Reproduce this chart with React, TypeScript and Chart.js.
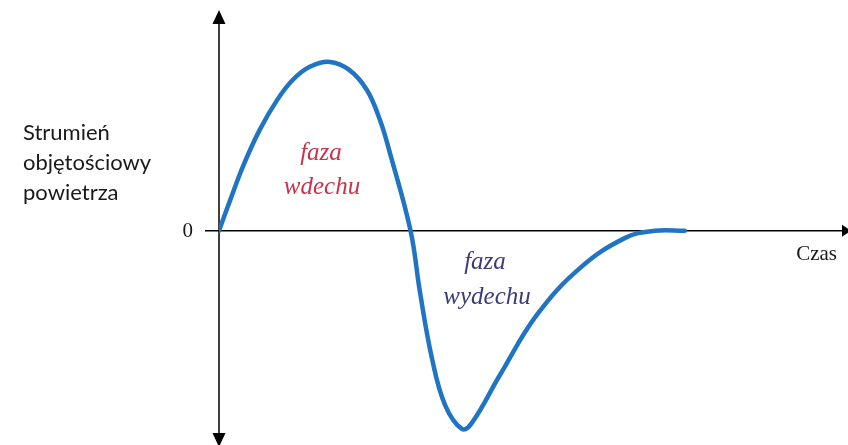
import React, { useEffect, useRef } from "react";
import { Chart, registerables } from "chart.js";

Chart.register(...registerables);

// Time (arbitrary units) and air flow values
const timeValues = [0, 0.18, 0.38, 0.65, 0.93, 1.18, 1.45, 1.77, 2.08, 2.36, 2.57, 2.73, 3.06, 3.21, 3.4, 3.61, 3.88, 4.04, 4.49, 5.08, 5.77, 6.49, 6.96, 7.44];
const flowValues = [0, 1.4, 2.9, 4.57, 5.93, 6.84, 7.43, 7.65, 7.29, 6.39, 5.03, 3.53, 0, -2.76, -5.75, -7.88, -8.97, -8.7, -6.52, -3.8, -1.68, -0.32, 0, 0];

const yAxisLabelLines = ["Strumień", "objętościowy", "powietrza"];
const xAxisLabel = "Czas";
const zeroLabel = "0";
const inhaleLabel = ["faza", "wdechu"];
const exhaleLabel = ["faza", "wydechu"];

const X_MIN = 0;
const X_MAX = 10;
const Y_MIN = -9.7;
const Y_MAX = 10;

const axesPlugin = {
  id: "arrowAxes",
  beforeDatasetsDraw(chart: any) {
    const { ctx, chartArea, scales } = chart;
    const x0 = scales.x.getPixelForValue(0);
    const y0 = scales.y.getPixelForValue(0);
    ctx.save();
    ctx.strokeStyle = "#000";
    ctx.fillStyle = "#000";
    ctx.lineWidth = 1.5;
    // vertical axis
    ctx.beginPath();
    ctx.moveTo(x0, chartArea.top + 10);
    ctx.lineTo(x0, chartArea.bottom - 8);
    ctx.stroke();
    // top arrow
    ctx.beginPath();
    ctx.moveTo(x0, chartArea.top);
    ctx.lineTo(x0 - 6.5, chartArea.top + 14);
    ctx.lineTo(x0 + 6.5, chartArea.top + 14);
    ctx.closePath();
    ctx.fill();
    // bottom arrow
    ctx.beginPath();
    ctx.moveTo(x0, chartArea.bottom + 2);
    ctx.lineTo(x0 - 6.5, chartArea.bottom - 12);
    ctx.lineTo(x0 + 6.5, chartArea.bottom - 12);
    ctx.closePath();
    ctx.fill();
    // horizontal axis
    ctx.beginPath();
    ctx.moveTo(x0 - 14, y0);
    ctx.lineTo(chartArea.right, y0);
    ctx.stroke();
    // right arrow
    ctx.beginPath();
    ctx.moveTo(chartArea.right + 6, y0);
    ctx.lineTo(chartArea.right - 3, y0 - 6);
    ctx.lineTo(chartArea.right - 3, y0 + 6);
    ctx.closePath();
    ctx.fill();
    ctx.restore();
  },
  afterDraw(chart: any) {
    const { ctx, scales, chartArea } = chart;
    const x0 = scales.x.getPixelForValue(0);
    const y0 = scales.y.getPixelForValue(0);
    ctx.save();
    ctx.textBaseline = "middle";
    // y axis label
    ctx.fillStyle = "#1a1a1a";
    ctx.font = "22px Lato";
    ctx.textAlign = "left";
    yAxisLabelLines.forEach((line, i) => {
      ctx.fillText(line, 23, 133 + i * 30);
    });
    // zero
    ctx.font = "21px 'Liberation Serif'";
    ctx.textAlign = "right";
    ctx.fillText(zeroLabel, x0 - 26, y0 + 1);
    // Czas
    ctx.textAlign = "right";
    ctx.fillText(xAxisLabel, chartArea.right - 8, y0 + 24);
    // phase labels
    ctx.font = "italic 25px 'Liberation Serif'";
    ctx.textAlign = "center";
    ctx.fillStyle = "#c8344c";
    ctx.fillText(inhaleLabel[0], 321, 153);
    ctx.fillText(inhaleLabel[1], 322, 187);
    ctx.fillStyle = "#3b3c78";
    ctx.fillText(exhaleLabel[0], 485, 262);
    ctx.fillText(exhaleLabel[1], 487, 297);
    ctx.restore();
  },
};

export default function App() {
  const canvasRef = useRef<HTMLCanvasElement>(null);

  useEffect(() => {
    document.body.style.margin = "0";
    const canvas = canvasRef.current;
    if (!canvas) return;
    const chart = new Chart(canvas, {
      type: "line",
      data: {
        datasets: [
          {
            data: timeValues.map((t, i) => ({ x: t, y: flowValues[i] })),
            borderColor: "#1f74c4",
            borderWidth: 4.5,
            pointRadius: 0,
            fill: false,
            tension: 0.4,
            borderCapStyle: "round",
          },
        ],
      },
      options: {
        animation: false,
        responsive: false,
        layout: { padding: { left: 219, right: 3, top: 10, bottom: 0 } },
        plugins: { legend: { display: false }, tooltip: { enabled: false } },
        scales: {
          x: { type: "linear", min: X_MIN, max: X_MAX, display: false },
          y: { type: "linear", min: Y_MIN, max: Y_MAX, display: false },
        },
      },
      plugins: [axesPlugin],
    });
    return () => chart.destroy();
  }, []);

  return (
    <div style={{ width: 848, height: 445 }}>
      <canvas ref={canvasRef} width={848} height={445} />
    </div>
  );
}
